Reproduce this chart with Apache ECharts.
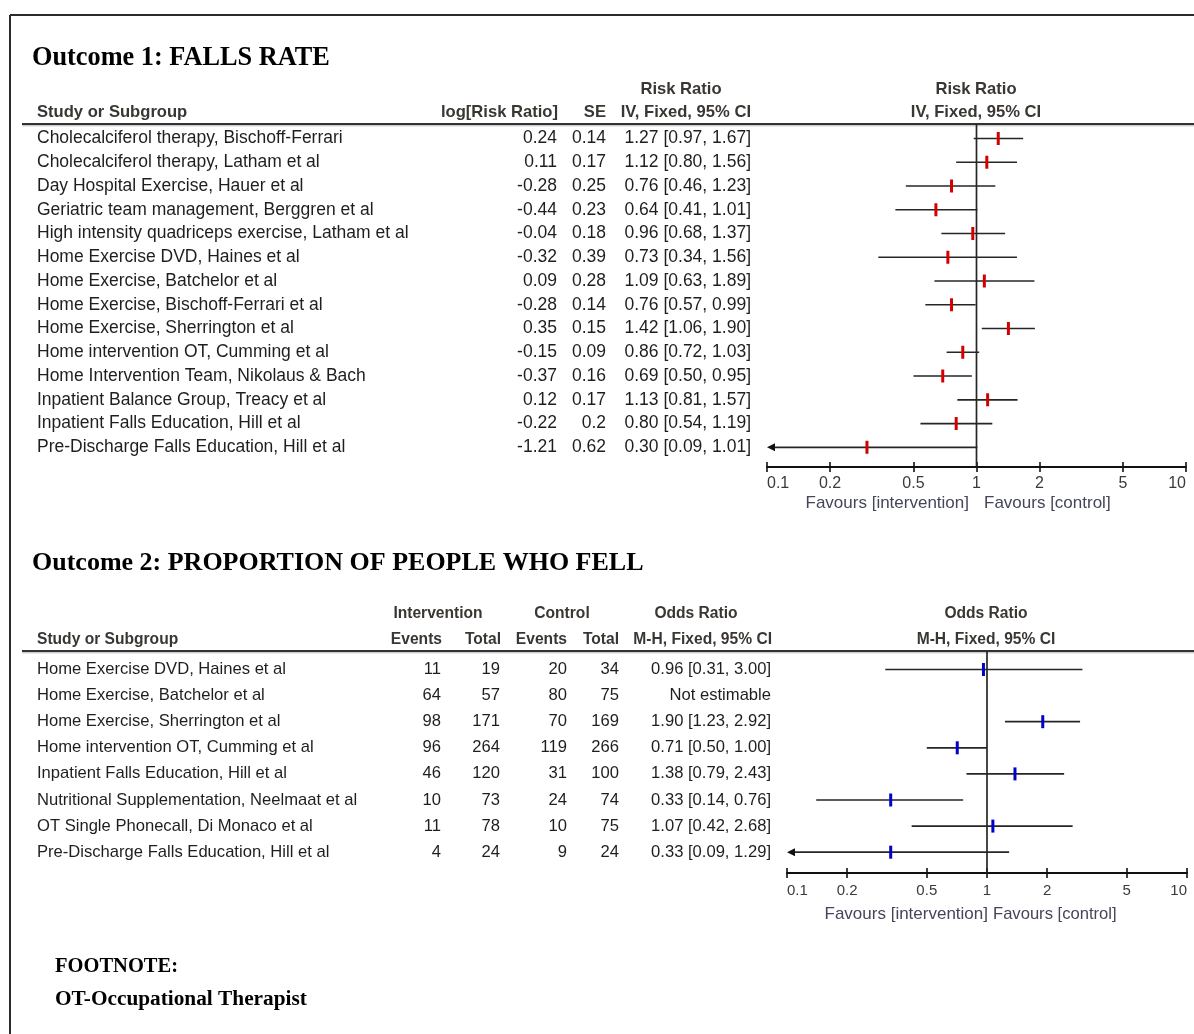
<!DOCTYPE html>
<html><head><meta charset="utf-8">
<script src="https://cdn.jsdelivr.net/npm/echarts/dist/echarts.min.js"></script>
<style>html,body{margin:0;padding:0;background:#fff}#c{width:1194px;height:1034px}</style>
</head><body><div id="c"></div>
<script>
// ---------- DATA ----------
const TICKS = [0.1, 0.2, 0.5, 1, 2, 5, 10];
const TICK_LABELS = ['0.1', '0.2', '0.5', '1', '2', '5', '10'];

// Outcome 1: Falls rate (Risk Ratio, IV, Fixed)
const STUDIES_1 = [
  'Cholecalciferol therapy, Bischoff-Ferrari',
  'Cholecalciferol therapy, Latham et al',
  'Day Hospital Exercise, Hauer et al',
  'Geriatric team management, Berggren et al',
  'High intensity quadriceps exercise, Latham et al',
  'Home Exercise DVD, Haines et al',
  'Home Exercise, Batchelor et al',
  'Home Exercise, Bischoff-Ferrari et al',
  'Home Exercise, Sherrington et al',
  'Home intervention OT, Cumming et al',
  'Home Intervention Team, Nikolaus & Bach',
  'Inpatient Balance Group, Treacy et al',
  'Inpatient Falls Education, Hill et al',
  'Pre-Discharge Falls Education, Hill et al'
];
const LOG_RR_1 = ['0.24', '0.11', '-0.28', '-0.44', '-0.04', '-0.32', '0.09', '-0.28', '0.35', '-0.15', '-0.37', '0.12', '-0.22', '-1.21'];
const SE_1 = ['0.14', '0.17', '0.25', '0.23', '0.18', '0.39', '0.28', '0.14', '0.15', '0.09', '0.16', '0.17', '0.2', '0.62'];
const RR_1 = [1.27, 1.12, 0.76, 0.64, 0.96, 0.73, 1.09, 0.76, 1.42, 0.86, 0.69, 1.13, 0.80, 0.30];
const RR_LO_1 = [0.97, 0.80, 0.46, 0.41, 0.68, 0.34, 0.63, 0.57, 1.06, 0.72, 0.50, 0.81, 0.54, 0.09];
const RR_HI_1 = [1.67, 1.56, 1.23, 1.01, 1.37, 1.56, 1.89, 0.99, 1.90, 1.03, 0.95, 1.57, 1.19, 1.01];

// Outcome 2: Proportion of people who fell (Odds Ratio, M-H, Fixed)
const STUDIES_2 = [
  'Home Exercise DVD, Haines et al',
  'Home Exercise, Batchelor et al',
  'Home Exercise, Sherrington et al',
  'Home intervention OT, Cumming et al',
  'Inpatient Falls Education, Hill et al',
  'Nutritional Supplementation, Neelmaat et al',
  'OT Single Phonecall, Di Monaco et al',
  'Pre-Discharge Falls Education, Hill et al'
];
const INT_EVENTS_2 = [11, 64, 98, 96, 46, 10, 11, 4];
const INT_TOTAL_2 = [19, 57, 171, 264, 120, 73, 78, 24];
const CTL_EVENTS_2 = [20, 80, 70, 119, 31, 24, 10, 9];
const CTL_TOTAL_2 = [34, 75, 169, 266, 100, 74, 75, 24];
const OR_2 = [0.96, null, 1.90, 0.71, 1.38, 0.33, 1.07, 0.33];
const OR_LO_2 = [0.31, null, 1.23, 0.50, 0.79, 0.14, 0.42, 0.09];
const OR_HI_2 = [3.00, null, 2.92, 1.00, 2.43, 0.76, 2.68, 1.29];

// ---------- STYLE / LAYOUT ----------
const SANS = '"Liberation Sans", Arial, sans-serif';
const SERIF = '"Liberation Serif", "Times New Roman", serif';
const TXT = '#1e1e1e';
const HDR = '#3a3632';
const L1 = { left: 767, width: 419, top: 124, height: 343, yMin: -0.61, yMax: 13.83 };
const L2 = { left: 787, width: 400, top: 651, height: 222, yMin: -0.709, yMax: 7.797 };

const fmt2 = v => v.toFixed(2);
const ciText = (e, lo, hi) => e == null ? 'Not estimable' : fmt2(e) + ' [' + fmt2(lo) + ', ' + fmt2(hi) + ']';
const lg = v => v == null ? null : Math.log10(v);

function tickLabel(v) {
  for (let i = 0; i < TICKS.length; i++) if (Math.abs(Math.log10(TICKS[i]) - v) < 1e-6) return TICK_LABELS[i];
  return '';
}

function forestRender(color) {
  return function (params, api) {
    const est = api.value(0), lo = api.value(1), hi = api.value(2), row = api.value(3);
    if (isNaN(est) || isNaN(lo)) return;
    const minLog = -1;
    const clipped = lo < minLog;
    const pLo = api.coord([Math.max(lo, minLog), row]);
    const pHi = api.coord([hi, row]);
    const pE = api.coord([est, row]);
    const children = [
      { type: 'line', shape: { x1: pLo[0] + (clipped ? 5 : 0), y1: pLo[1], x2: pHi[0], y2: pHi[1] },
        style: { stroke: '#262626', lineWidth: 1.7 } },
      { type: 'rect', shape: { x: pE[0] - 1.5, y: pE[1] - 6.5, width: 3, height: 13 }, style: { fill: color } }
    ];
    if (clipped) {
      children.push({ type: 'polygon', shape: { points: [[pLo[0], pLo[1]], [pLo[0] + 8, pLo[1] - 4], [pLo[0] + 8, pLo[1] + 4]] },
        style: { fill: '#111' } });
    }
    return { type: 'group', children };
  };
}

function tableRender(cols, fontSize) {
  return function (params, api) {
    const i = params.dataIndex;
    const y = api.coord([api.value(0), api.value(1)])[1];
    return {
      type: 'group',
      children: cols.map(c => ({
        type: 'text', x: c.x, y: y,
        style: { text: String(c.get(i)), fontSize: fontSize, fontFamily: SANS, fill: TXT,
          align: c.align, verticalAlign: 'middle' }
      }))
    };
  };
}

const cols1 = [
  { x: 37, align: 'left', get: i => STUDIES_1[i] },
  { x: 557, align: 'right', get: i => LOG_RR_1[i] },
  { x: 606, align: 'right', get: i => SE_1[i] },
  { x: 751, align: 'right', get: i => ciText(RR_1[i], RR_LO_1[i], RR_HI_1[i]) }
];
const cols2 = [
  { x: 37, align: 'left', get: i => STUDIES_2[i] },
  { x: 441, align: 'right', get: i => INT_EVENTS_2[i] },
  { x: 500, align: 'right', get: i => INT_TOTAL_2[i] },
  { x: 567, align: 'right', get: i => CTL_EVENTS_2[i] },
  { x: 619, align: 'right', get: i => CTL_TOTAL_2[i] },
  { x: 771, align: 'right', get: i => ciText(OR_2[i], OR_LO_2[i], OR_HI_2[i]) }
];

function xAxes(gridIndex, fontSize, margin) {
  const base = {
    type: 'value', gridIndex, min: -1, max: 1, position: 'bottom',
    splitLine: { show: false }
  };
  return [
    Object.assign({}, base, {
      axisLine: { show: true, onZero: false, lineStyle: { color: '#111', width: 1.8 } },
      axisTick: { show: true, length: 5, inside: false, lineStyle: { color: '#111', width: 1.6 },
        customValues: TICKS.map(Math.log10) },
      axisLabel: { show: true, customValues: TICKS.map(Math.log10), formatter: tickLabel,
        fontSize, fontFamily: SANS, color: '#3a3a3a', margin, alignMinLabel: 'left', alignMaxLabel: 'right' }
    }),
    Object.assign({}, base, {
      axisLine: { show: false, onZero: false },
      axisTick: { show: true, length: 5, inside: true, lineStyle: { color: '#111', width: 1.6 },
        customValues: TICKS.map(Math.log10) },
      axisLabel: { show: false }
    })
  ];
}

function hText(text, x, y, align, size, opts) {
  return Object.assign({ type: 'text', x, y, silent: true,
    style: { text, fontSize: size, fontFamily: SANS, fontWeight: 'bold', fill: HDR, align, verticalAlign: 'middle' } }, opts || {});
}
function hLine(x1, y1, x2, y2, w, c) {
  return { type: 'line', silent: true, shape: { x1, y1, x2, y2 }, style: { stroke: c, lineWidth: w } };
}

const graphics = [
  // frame
  hLine(10, 15, 1194, 15, 2, '#2b2b2b'),
  hLine(10, 15, 10, 1034, 2, '#2b2b2b'),
  // titles
  { type: 'text', x: 32, y: 58, style: { text: 'Outcome 1: FALLS RATE', fontSize: 26.3, fontFamily: SERIF, fontWeight: 'bold', fill: '#000', verticalAlign: 'middle' } },
  { type: 'text', x: 32, y: 563, style: { text: 'Outcome 2: PROPORTION OF PEOPLE WHO FELL', fontSize: 26, fontFamily: SERIF, fontWeight: 'bold', fill: '#000', verticalAlign: 'middle' } },
  // header 1
  hText('Risk Ratio', 681, 89, 'center', 16.6),
  hText('Risk Ratio', 976, 89, 'center', 16.6),
  hText('Study or Subgroup', 37, 112, 'left', 16.6),
  hText('log[Risk Ratio]', 558, 112, 'right', 16.6),
  hText('SE', 606, 112, 'right', 16.6),
  hText('IV, Fixed, 95% CI', 751, 112, 'right', 16.6),
  hText('IV, Fixed, 95% CI', 976, 112, 'center', 16.6),
  hLine(22, 124, 1194, 124, 2, '#333'),
  hLine(22, 125.8, 1194, 125.8, 1, '#b8b8b8'),
  // header 2
  hText('Intervention', 438, 614, 'center', 15.6),
  hText('Control', 562, 614, 'center', 15.6),
  hText('Odds Ratio', 696, 614, 'center', 15.6),
  hText('Odds Ratio', 986, 614, 'center', 15.6),
  hText('Study or Subgroup', 37, 640, 'left', 15.6),
  hText('Events', 442, 640, 'right', 15.6),
  hText('Total', 501, 640, 'right', 15.6),
  hText('Events', 567, 640, 'right', 15.6),
  hText('Total', 619, 640, 'right', 15.6),
  hText('M-H, Fixed, 95% CI', 772, 640, 'right', 15.6),
  hText('M-H, Fixed, 95% CI', 986, 640, 'center', 15.6),
  hLine(22, 651, 1194, 651, 2, '#333'),
  hLine(22, 652.8, 1194, 652.8, 1, '#b8b8b8'),
  // favours
  { type: 'text', x: 969, y: 503, style: { text: 'Favours [intervention]', fontSize: 17, fontFamily: SANS, fill: '#44465a', align: 'right', verticalAlign: 'middle' } },
  { type: 'text', x: 984, y: 503, style: { text: 'Favours [control]', fontSize: 17, fontFamily: SANS, fill: '#44465a', align: 'left', verticalAlign: 'middle' } },
  { type: 'text', x: 988, y: 914, style: { text: 'Favours [intervention]', fontSize: 17, fontFamily: SANS, fill: '#44465a', align: 'right', verticalAlign: 'middle' } },
  { type: 'text', x: 993, y: 914, style: { text: 'Favours [control]', fontSize: 16.6, fontFamily: SANS, fill: '#44465a', align: 'left', verticalAlign: 'middle' } },
  // footnote
  { type: 'text', x: 55, y: 967, style: { text: 'FOOTNOTE:', fontSize: 20.5, fontFamily: SERIF, fontWeight: 'bold', fill: '#000', verticalAlign: 'middle' } },
  { type: 'text', x: 55, y: 999, style: { text: 'OT-Occupational Therapist', fontSize: 21.3, fontFamily: SERIF, fontWeight: 'bold', fill: '#000', verticalAlign: 'middle' } }
];

const option = {
  animation: false,
  backgroundColor: '#fff',
  grid: [
    { left: L1.left, width: L1.width, top: L1.top, height: L1.height, containLabel: false },
    { left: L2.left, width: L2.width, top: L2.top, height: L2.height, containLabel: false }
  ],
  xAxis: [].concat(xAxes(0, 16, 9), xAxes(1, 15, 10)),
  yAxis: [
    { type: 'value', gridIndex: 0, inverse: true, min: L1.yMin, max: L1.yMax, show: false },
    { type: 'value', gridIndex: 1, inverse: true, min: L2.yMin, max: L2.yMax, show: false }
  ],
  graphic: graphics,
  series: [
    { type: 'line', xAxisIndex: 0, yAxisIndex: 0, data: [[lg(1), L1.yMin], [lg(1), L1.yMax]], symbol: 'none',
      lineStyle: { color: '#262626', width: 1.7 }, silent: true, z: 1 },
    { type: 'line', xAxisIndex: 2, yAxisIndex: 1, data: [[lg(1), L2.yMin], [lg(1), L2.yMax]], symbol: 'none',
      lineStyle: { color: '#262626', width: 1.7 }, silent: true, z: 1 },
    { type: 'custom', xAxisIndex: 0, yAxisIndex: 0, clip: false, z: 3,
      renderItem: forestRender('#d40000'),
      encode: { x: [0, 1, 2], y: 3 },
      data: RR_1.map((e, i) => [lg(e), lg(RR_LO_1[i]), lg(RR_HI_1[i]), i]) },
    { type: 'custom', xAxisIndex: 2, yAxisIndex: 1, clip: false, z: 3,
      renderItem: forestRender('#0000c8'),
      encode: { x: [0, 1, 2], y: 3 },
      data: OR_2.map((e, i) => e == null ? [NaN, NaN, NaN, i] : [lg(e), lg(OR_LO_2[i]), lg(OR_HI_2[i]), i]) },
    { type: 'custom', xAxisIndex: 0, yAxisIndex: 0, clip: false, silent: true,
      renderItem: tableRender(cols1, 17.5), encode: { x: 0, y: 1 },
      data: STUDIES_1.map((s, i) => [0, i]) },
    { type: 'custom', xAxisIndex: 2, yAxisIndex: 1, clip: false, silent: true,
      renderItem: tableRender(cols2, 16.6), encode: { x: 0, y: 1 },
      data: STUDIES_2.map((s, i) => [0, i]) }
  ]
};

const chart = echarts.init(document.getElementById('c'), null, { renderer: 'canvas' });
chart.setOption(option);
</script>
</body></html>
